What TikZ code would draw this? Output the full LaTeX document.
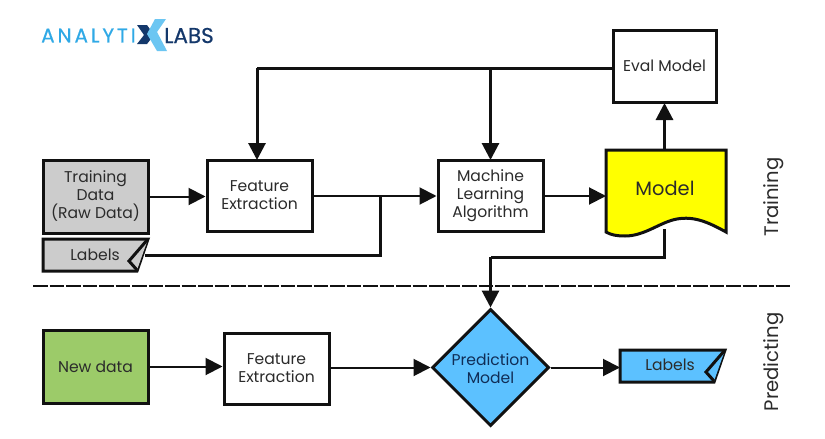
\documentclass[tikz,border=0pt]{standalone}
\usepackage{fontspec}
\setmainfont{Poppins}
\newfontfamily\logofont[FakeBold=0.5]{Poppins}
\usetikzlibrary{arrows.meta,shapes.geometric,calc}
\definecolor{inkdark}{HTML}{111111}
\definecolor{txtgray}{HTML}{2B2B2B}
\definecolor{boxgray}{HTML}{CCCCCC}
\definecolor{boxgreen}{HTML}{9CCB69}
\definecolor{boxblue}{HTML}{5CC1FF}
\definecolor{boxyellow}{HTML}{FFFF00}
\definecolor{logolight}{HTML}{2FA9E6}
\definecolor{logopale}{HTML}{6CC6F2}
\definecolor{logonavy}{HTML}{14386B}
\tikzset{
  base/.style={align=center,text=txtgray,font=\fontsize{15.6}{18}\selectfont,inner sep=0pt},
  procbox/.style={base,draw=inkdark,line width=3pt,fill=white,minimum width=105pt,minimum height=71pt},
  plainarea/.style={base},
  flow/.style={draw=inkdark,line width=2pt,-{Triangle[length=17pt,width=17pt]}},
  heavyflow/.style={flow,line width=3pt},
  plainline/.style={draw=inkdark,line width=3pt},
  outline/.style={draw=inkdark,line width=3pt,line join=miter},
  sidetext/.style={text=txtgray,font=\fontsize{19.6}{22}\selectfont,rotate=90,inner sep=0pt}
}
\begin{document}
\begin{tikzpicture}[x=1pt,y=-1pt]
\useasboundingbox (0,0) rectangle (825,439);
\fill[white] (0,0) rectangle (825,439);

% company mark
\node[anchor=west,inner sep=0pt,text=logolight,font=\logofont\fontsize{20}{22}\selectfont] (logoA) at (41,35.5) {A\kern2.9pt N\kern2.9pt A\kern2.9pt L\kern2.9pt Y\kern2.9pt T\kern2.9pt I};
\fill[logonavy] (137,25) -- (147,25) -- (154,35) -- (147,44) -- (137,44) -- (144,35) -- cycle;
\fill[logopale] (155,19) -- (166,19) -- (157,32) -- (167,51) -- (157,51) -- (147,34) -- cycle;
\node[anchor=west,inner sep=0pt,text=logonavy,font=\logofont\fontsize{21.5}{23}\selectfont] (logoB) at (164,35.5) {LABS};

% shaped outlines sit under the text nodes
\path[outline,fill=boxgray] (43,239) -- (148,239) -- (137,271) -- (43,271) -- cycle;
\path[outline,fill=boxgray] (148,239) -- (129,261) -- (137,270);
\path[outline,fill=boxyellow] (606,150) -- (726,150) -- (726,232)
  .. controls (708,222) and (694,216) .. (677,219)
  .. controls (660,222) and (645,236) .. (625,236)
  .. controls (617,236) and (611,235) .. (606,232) -- cycle;
\path[outline,fill=boxblue] (620,350) -- (725,350) -- (714,382) -- (620,382) -- cycle;
\path[outline,fill=boxblue] (725,350) -- (706,372) -- (714,381);

% training row
\node[procbox,fill=boxgray,minimum height=73pt] (train) at (95.5,196.5) {Training\\Data\\(Raw Data)};
\node[plainarea,minimum width=100pt,minimum height=32pt] (lab) at (95,255) {Labels};
\node[procbox] (feat) at (259.5,196) {\raisebox{1pt}{Feature}\\\raisebox{1pt}{Extraction}};
\node[procbox] (ml) at (490.5,196) {Machine\\Learning\\Algorithm};
\node[plainarea,minimum width=120pt,minimum height=79pt,font=\fontsize{19.4}{22}\selectfont] (model) at (665,188) {Model};
\node[procbox,minimum width=103pt,minimum height=72pt] (eval) at (664.5,66) {Eval Model};

% predicting row
\node[procbox,fill=boxgreen,minimum height=73pt] (new) at (95.5,366.5) {New data};
\node[procbox] (feat2) at (276.5,369) {\raisebox{1pt}{Feature}\\\raisebox{1pt}{Extraction}};
\node[diamond,draw=inkdark,line width=3pt,fill=boxblue,minimum width=117pt,minimum height=117pt,inner sep=0pt,aspect=1] (pred) at (490.5,367.5) {};
\node[base,text=logonavy!80!black] (predtxt) at (490.5,369) {Prediction\\Model};
\node[plainarea,minimum width=100pt,minimum height=32pt] (lab2) at (670,365) {Labels};
\coordinate (lab2in) at (620,367.5);

% junction points of the routed connectors
\coordinate (merge) at (380,196);
\coordinate (topleft) at (257,68);
\coordinate (topbranch) at (490.5,68);
\coordinate (mlin) at (490.5,160);
\coordinate (featin) at (257,160);
\coordinate (modelout) at (664.5,229);
\coordinate (modeltop) at (664.5,150);
\coordinate (evalin) at (664.5,103);
\coordinate (turnR) at (664.5,257);
\coordinate (turnL) at (490.5,257);

% section divider
\draw[draw=inkdark,line width=2pt,dash pattern=on 14.5pt off 2pt] (33,286) -- (790,286);

% connectors
\draw[flow] (train.east) -- (feat.west |- train.east);
\draw[flow] (feat.east) -- (ml.west);
\draw[plainline] (lab.east) -| (merge);
\draw[plainline] (eval.west |- topleft) -- (topleft);
\draw[heavyflow] (topleft) -- (featin);
\draw[heavyflow] (topbranch) -- (mlin);
\draw[flow] (ml.east) -- (606,196);
\draw[heavyflow] (modeltop) -- (evalin);
\draw[plainline] (modelout) -- (turnR) -- (turnL);
\draw[heavyflow] (turnL) -- (pred.north);
\draw[flow] (new.east) -- (feat2.west |- new.east);
\draw[flow] (feat2.east |- pred.west) -- (pred.west);
\draw[flow] (pred.east) -- (lab2in);

% section titles
\node[sidetext] (ttrain) at (773.5,197) {Training};
\node[sidetext] (tpred) at (773.5,362) {Predicting};
\end{tikzpicture}
\end{document}
